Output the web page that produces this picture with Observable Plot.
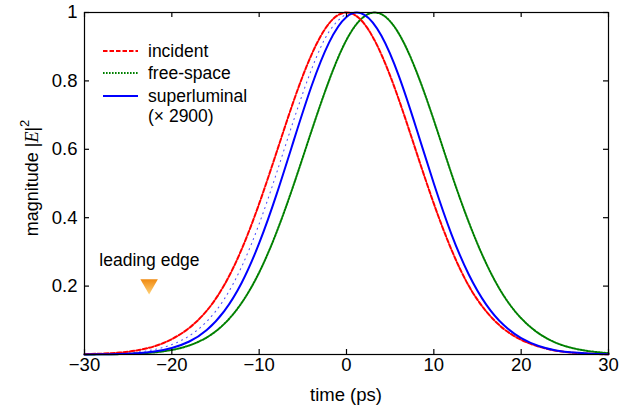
<!DOCTYPE html>
<html>
<head>
<meta charset="utf-8">
<script src="https://cdn.jsdelivr.net/npm/d3@7"></script>
<script src="https://cdn.jsdelivr.net/npm/@observablehq/plot@0.6"></script>
<style>
  html, body { margin: 0; padding: 0; background: #fff; }
  svg { font-family: "Liberation Sans", Arial, sans-serif; }
</style>
</head>
<body>
<div id="chart"></div>
<script>
// time samples (ps)
const time = [-30,-28,-26,-24,-22,-20,-18,-16,-14,-12,-10,-8,-6,-4,-2,0,2,4,6,8,10,12,14,16,18,20,22,24,26,28,30];
// incident pulse |E|^2
const incident = [0.001,0.0025,0.0055,0.012,0.024,0.045,0.078,0.128,0.203,0.308,0.441,0.592,0.745,0.877,0.968,1,0.968,0.877,0.745,0.592,0.441,0.3075,0.2009,0.126,0.075,0.043,0.023,0.011,0.005,0.002,0.0008];
// free-space propagated pulse
const freeSpace = [0.0002,0.0005,0.0012,0.0028,0.0062,0.0132,0.0265,0.0500,0.0895,0.1512,0.240,0.358,0.500,0.654,0.801,0.920,0.988,0.995,0.938,0.828,0.685,0.530,0.387,0.266,0.172,0.106,0.062,0.034,0.018,0.009,0.004];
// superluminal pulse (x 2900)
const superluminal = [0.0003,0.0007,0.0017,0.004,0.009,0.0192,0.038,0.0718,0.127,0.210,0.3255,0.469,0.629,0.785,0.912,0.987,0.994,0.932,0.814,0.661,0.500,0.353,0.234,0.146,0.086,0.048,0.025,0.012,0.0055,0.0024,0.001];
// thin dotted reference curve (leading edge only)
const refTime = [-30,-28,-26,-24,-22,-20,-18,-16,-14,-12,-10,-8,-6,-4,-2,0];
const refCurve = [0.0005,0.0013,0.003,0.0068,0.0145,0.029,0.0545,0.0966,0.162,0.257,0.382,0.531,0.689,0.834,0.944,0.997];

const xTicks = [-30,-20,-10,0,10,20,30];
const yTicks = [0.2,0.4,0.6,0.8,1];
const yTickLabels = ["0.2","0.4","0.6","0.8","1"];
const legendLabels = ["incident","free-space","superluminal","(× 2900)"];
const annotText = ["leading edge"];
const annotTextPos = [[-28.3, 0.275]];
const annotMarker = [[-22.6, 0.205]];

const rows = (xs, ys) => xs.map((t, i) => ({t, v: ys[i]}));

const W = 633, H = 411;
const mL = 84, mR = 25, mT = 12, mB = 57;
const innerW = W - mL - mR, innerH = H - mT - mB;
const TICK = 5;
const FS = 18.5;

const chart = Plot.plot({
  width: W, height: H,
  marginLeft: mL, marginRight: mR, marginTop: mT, marginBottom: mB,
  style: {fontFamily: '"Liberation Sans", Arial, sans-serif', fontSize: FS + "px", color: "#000", background: "#fff"},
  x: {domain: [-30, 30]},
  y: {domain: [0, 1]},
  marks: [
    Plot.line(rows(refTime, refCurve), {x: "t", y: "v", stroke: "#5555ff", strokeWidth: 1.1, strokeDasharray: "1,4.5", curve: "natural"}),
    Plot.line(rows(time, freeSpace), {x: "t", y: "v", stroke: "#008000", strokeWidth: 2, strokeDasharray: "1.6,1.4", curve: "natural"}),
    Plot.line(rows(time, incident), {x: "t", y: "v", stroke: "#ff0000", strokeWidth: 2, strokeDasharray: "4.5,2", curve: "natural"}),
    Plot.line(rows(time, superluminal), {x: "t", y: "v", stroke: "#0000ff", strokeWidth: 2, curve: "natural"}),
    Plot.text(annotText, {x: () => annotTextPos[0][0], y: () => annotTextPos[0][1], text: d => d, textAnchor: "start", fontSize: 17.5, fill: "#000"}),
    Plot.dot(annotMarker, {x: d => d[0], y: d => d[1], symbol: "triangle", rotate: 180, r: 6.5, fill: "url(#orangeGrad)", stroke: "none"}),
    // inward ticks on all four sides
    Plot.tickX(xTicks, {x: d => d, stroke: "#000", strokeWidth: 1.2, insetTop: innerH - TICK}),
    Plot.tickX(xTicks, {x: d => d, stroke: "#000", strokeWidth: 1.2, insetBottom: innerH - TICK}),
    Plot.tickY(yTicks, {y: d => d, stroke: "#000", strokeWidth: 1.2, insetRight: innerW - TICK}),
    Plot.tickY(yTicks, {y: d => d, stroke: "#000", strokeWidth: 1.2, insetLeft: innerW - TICK}),
    Plot.frame({stroke: "#000", strokeWidth: 1.2}),
    Plot.axisX(xTicks, {anchor: "bottom", tickSize: 0, tickPadding: 3, fontSize: FS, label: null, tickFormat: d => d < 0 ? "\u2212" + Math.abs(d) : String(d)}),
    Plot.axisY(yTicks, {anchor: "left", tickSize: 0, tickPadding: 7, fontSize: FS, label: null, tickFormat: d => yTickLabels[yTicks.indexOf(d)]})
  ]
});

const svg = d3.select(chart);
const defs = svg.insert("defs", ":first-child");
const grad = defs.append("linearGradient").attr("id", "orangeGrad").attr("x1", 0).attr("y1", 0).attr("x2", 0).attr("y2", 1);
grad.append("stop").attr("offset", "0%").attr("stop-color", "#ffd27a");
grad.append("stop").attr("offset", "100%").attr("stop-color", "#f08a10");

// axis titles
svg.append("text").attr("x", mL + innerW / 2).attr("y", 401).attr("text-anchor", "middle")
  .attr("font-size", 18.5).text("time (ps)");
const yl = svg.append("text").attr("transform", "translate(38,178) rotate(-90)")
  .attr("text-anchor", "middle").attr("font-size", 18);
yl.append("tspan").text("magnitude |");
yl.append("tspan").attr("font-family", '"Liberation Serif", "Times New Roman", serif').attr("font-style", "italic").text("E");
yl.append("tspan").text("|");
yl.append("tspan").attr("dy", -9).attr("font-size", 13).text("2");

// legend
const legStyles = [
  {stroke: "#ff0000", dash: "4.5,2"},
  {stroke: "#008000", dash: "1.6,1.4"},
  {stroke: "#0000ff", dash: null}
];
const legY = [51, 73, 96, 116];
const lg = svg.append("g");
legStyles.forEach((s, i) => {
  lg.append("line").attr("x1", 103).attr("x2", 138).attr("y1", legY[i]).attr("y2", legY[i])
    .attr("stroke", s.stroke).attr("stroke-width", 2).attr("stroke-dasharray", s.dash);
});
legendLabels.forEach((t, i) => {
  lg.append("text").attr("x", 148).attr("y", legY[i]).attr("dy", "0.35em")
    .attr("text-anchor", "start").attr("font-size", 17.5).text(t);
});

document.getElementById("chart").appendChild(chart);
</script>
</body>
</html>
